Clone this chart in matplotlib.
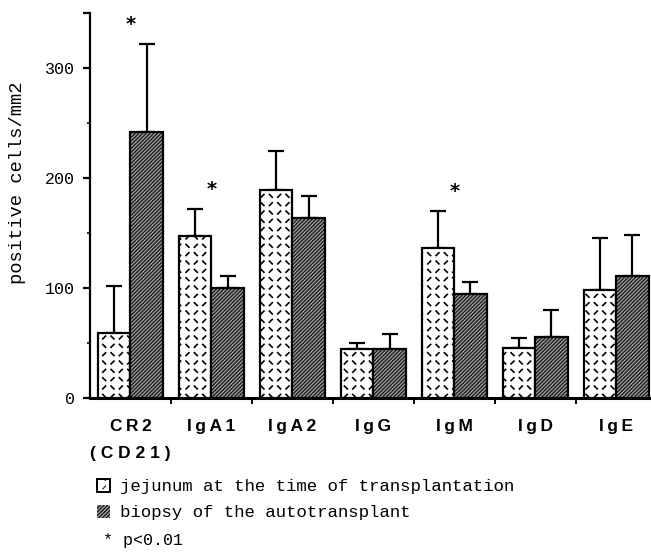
import numpy as np
import matplotlib
matplotlib.use("Agg")
import matplotlib.pyplot as plt
import matplotlib.hatch as mhatch
from matplotlib.path import Path
from matplotlib.patches import Patch

# ---------------- data ----------------
categories = ["CR2\n(CD21)", "IgA1", "IgA2", "IgG", "IgM", "IgD", "IgE"]
jejunum = [59, 147, 189, 44, 136, 45, 98]
jejunum_sd = [43, 25, 36, 6, 34, 9, 47]
biopsy = [242, 100, 164, 44, 94, 55, 111]
biopsy_sd = [80, 11, 20, 14, 11, 25, 37]
significant = [True, True, False, False, True, False, False]
series_labels = ["jejunum at the time of transplantation",
                 "biopsy of the autotransplant"]
y_ticks = [0, 100, 200, 300]
note = "* p<0.01"
y_label = "positive cells/mm2"


def letterspaced(label):
    lines = label.split("\n")
    out = ["\u2009".join(lines[0])]
    out += [" ".join(l) for l in lines[1:]]
    return "\n".join(out)


# ---------------- custom dash texture for the light bars ----------------
class DashHatch(mhatch.HatchPatternBase):
    cells = 6

    def __init__(self, hatch, density):
        self.active = 'O' in hatch
        self.num_vertices = 8 * self.cells ** 2 if self.active else 0

    def set_vertices_and_codes(self, vertices, codes):
        n = self.cells
        s = 1.0 / n
        h = 0.085 * s
        cell = [(0.25, 0.25, 1), (0.75, 0.25, -1), (0.25, 0.75, -1), (0.75, 0.75, 1)]
        k = 0
        for i in range(n):
            for j in range(n):
                for cx, cy, sg in cell:
                    x = (i + cx) * s
                    y = (j + cy) * s
                    vertices[k] = (x - h, y + sg * h)
                    vertices[k + 1] = (x + h, y - sg * h)
                    k += 2
        codes[0::2] = Path.MOVETO
        codes[1::2] = Path.LINETO


mhatch._hatch_types[:] = [t for t in mhatch._hatch_types
                          if t is not mhatch.LargeCircles] + [DashHatch]

MONO = "Liberation Mono"
SANS = ["Liberation Sans", "DejaVu Sans"]

fig = plt.figure(figsize=(6.51, 5.55), dpi=100)
ax = fig.add_axes([90 / 651, 1 - 397.7 / 555, 561 / 651, 384.3 / 555])

x = np.arange(len(categories))
w = 0.4
DARK_FACE = "#262626"
DARK_LINE = "#b4b4b4"


def set_hlw(patches, lw):
    for p in patches:
        if hasattr(p, "set_hatch_linewidth"):
            p.set_hatch_linewidth(lw)


plt.rcParams["hatch.linewidth"] = 1.2
light = ax.bar(x - w / 2, jejunum, w, facecolor="white", edgecolor="black",
               linewidth=1.6, hatch="O", zorder=3)
set_hlw(light, 1.2)

plt.rcParams["hatch.linewidth"] = 0.7
dark_fill = ax.bar(x + w / 2, biopsy, w, facecolor=DARK_FACE, edgecolor=DARK_LINE,
                   linewidth=0, hatch="/" * 9, zorder=3)
set_hlw(dark_fill, 0.7)
ax.bar(x + w / 2, biopsy, w, facecolor="none", edgecolor="black",
       linewidth=1.6, zorder=4)

zeros = np.zeros(len(categories))
ax.errorbar(x - w / 2, jejunum, yerr=[zeros, jejunum_sd], fmt="none",
            ecolor="black", elinewidth=1.6, capsize=6, capthick=1.6, zorder=2)
ax.errorbar(x + w / 2, biopsy, yerr=[zeros, biopsy_sd], fmt="none",
            ecolor="black", elinewidth=1.6, capsize=6, capthick=1.6, zorder=2)

for i, sig in enumerate(significant):
    if sig:
        top = max(jejunum[i] + jejunum_sd[i], biopsy[i] + biopsy_sd[i])
        ax.text(x[i], top + 18, "*", ha="center", va="center",
                fontsize=14, fontfamily="DejaVu Sans", fontweight="bold")

# axes styling
ax.set_xlim(-0.5, 6.43)
ax.set_ylim(0, 350)
for side in ("top", "right"):
    ax.spines[side].set_visible(False)
ax.spines["left"].set_linewidth(1.6)
ax.spines["bottom"].set_linewidth(2.2)

ax.set_yticks(y_ticks + [350])
ax.set_yticklabels([str(v) for v in y_ticks] + [""], fontfamily=MONO, fontsize=12)
ax.set_yticks([50, 150, 250], minor=True)
ax.tick_params(axis="y", which="major", length=5, width=1.6, pad=6)
ax.tick_params(axis="y", which="minor", length=2.5, width=1.2)

ax.set_xticks(x[:-1] + 0.5)
ax.set_xticklabels([])
ax.set_xticks(x, minor=True)
ax.set_xticklabels([letterspaced(c) for c in categories], minor=True,
                   fontfamily=SANS, fontweight="bold", fontsize=12.5, linespacing=2.05)
ax.tick_params(axis="x", which="major", length=4, width=1.4, direction="out")
ax.tick_params(axis="x", which="minor", length=0, pad=15)

fig.text(18 / 651, 1 - 183 / 555, y_label, rotation=90, ha="center", va="center",
         fontfamily=MONO, fontsize=13.5)

# legend
h_light = Patch(facecolor="white", edgecolor="black", hatch="O", linewidth=1.4)
h_dark = Patch(facecolor=DARK_FACE, edgecolor=DARK_LINE, hatch="/" * 9, linewidth=0)
leg = fig.legend([h_light, h_dark], series_labels, loc="upper left",
                 bbox_to_anchor=(97 / 651, 1 - 479 / 555), frameon=False,
                 borderpad=0, borderaxespad=0, handlelength=0.75, handleheight=0.75,
                 handletextpad=0.55, labelspacing=0.6,
                 prop={"family": MONO, "size": 12.5})
fig.text(103 / 651, 1 - 541 / 555, note, ha="left", va="center",
         fontfamily=MONO, fontsize=12)

fig.savefig("out.png", dpi=100)
